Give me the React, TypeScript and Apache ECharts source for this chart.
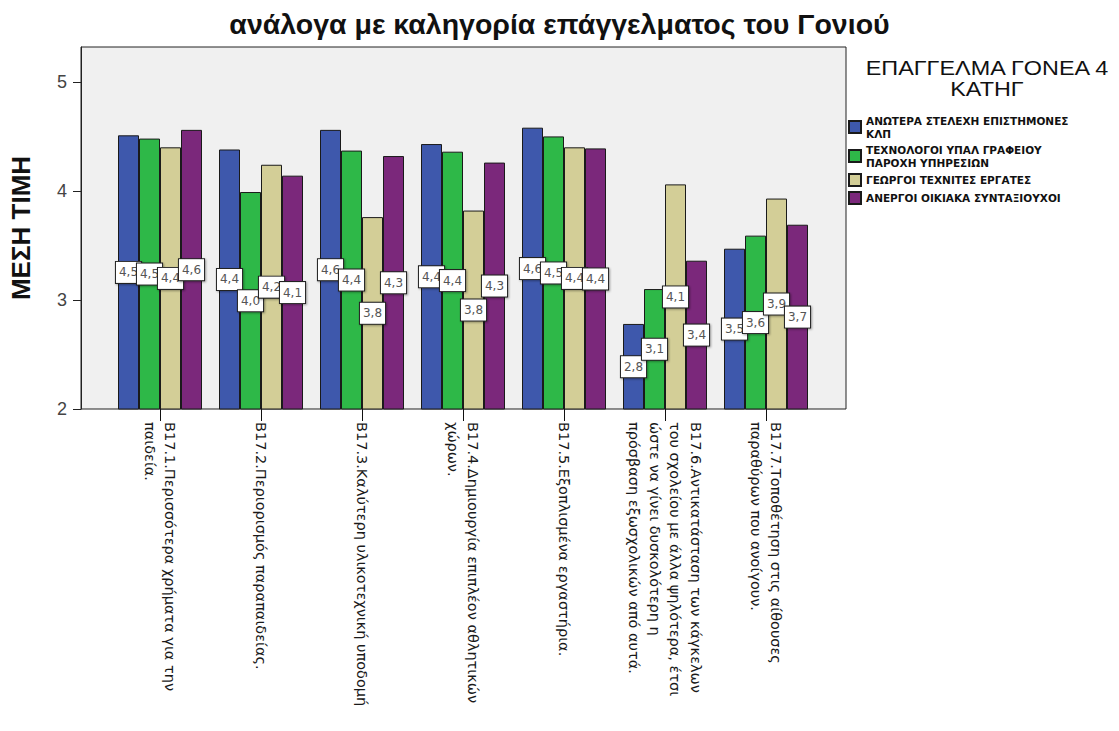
import React, { useEffect, useRef } from "react";
import * as echarts from "echarts";

const categories = [
  "Β17.1.Περισσότερα χρήματα για την\nπαιδεία.",
  "Β17.2.Περιορισμός παραπαιδείας.",
  "Β17.3.Καλύτερη υλικοτεχνική υποδομή",
  "Β17.4.Δημιουργία επιπλέον αθλητικών\nχώρων.",
  "Β17.5.Εξοπλισμένα εργαστήρια.",
  "Β17.6.Αντικατάσταση των κάγκελων\nτου σχολείου με άλλα ψηλότερα, έτσι\nώστε να γίνει δυσκολότερη η\nπρόσβαση εξωσχολικών από αυτά.",
  "Β17.7.Τοποθέτηση στις αίθουσες\nπαραθύρων που ανοίγουν.",
];

const seriesNames = [
  "ΑΝΩΤΕΡΑ ΣΤΕΛΕΧΗ ΕΠΙΣΤΗΜΟΝΕΣ\nΚΛΠ",
  "ΤΕΧΝΟΛΟΓΟΙ ΥΠΑΛ ΓΡΑΦΕΙΟΥ\nΠΑΡΟΧΗ ΥΠΗΡΕΣΙΩΝ",
  "ΓΕΩΡΓΟΙ ΤΕΧΝΙΤΕΣ ΕΡΓΑΤΕΣ",
  "ΑΝΕΡΓΟΙ ΟΙΚΙΑΚΑ ΣΥΝΤΑΞΙΟΥΧΟΙ",
];

const anoteraValues = [4.51, 4.38, 4.56, 4.43, 4.58, 2.78, 3.47];
const technologoiValues = [4.48, 3.99, 4.37, 4.36, 4.5, 3.1, 3.59];
const georgoiValues = [4.4, 4.24, 3.76, 3.82, 4.4, 4.06, 3.93];
const anergoiValues = [4.56, 4.14, 4.32, 4.26, 4.39, 3.36, 3.69];

const yTicks = [2, 3, 4, 5];

const colors = ["#3E58AC", "#2EB848", "#D3CE97", "#7B287B"];

// top edge of each legend entry (two-line entries start above their swatch)
const legendTops = [114, 143, 173, 191];

export default function App() {
  const ref = useRef<HTMLDivElement>(null);
  useEffect(() => {
    document.body.style.margin = "0";
    const chart = echarts.init(ref.current!, null, { renderer: "svg" });
    const values = [anoteraValues, technologoiValues, georgoiValues, anergoiValues];
    const option: any = {
      animation: false,
      backgroundColor: "#ffffff",
      title: {
        text: "ανάλογα με καληγορία επάγγελματος του Γονιού",
        left: "center",
        top: 4,
        textStyle: {
          fontFamily: "Liberation Sans",
          fontSize: 28.5,
          fontWeight: "bold",
          color: "#111",
        },
      },
      graphic: [
        {
          type: "text",
          x: 987,
          y: 58,
          scaleX: 1.17,
          style: {
            text: "ΕΠΑΓΓΕΛΜΑ ΓΟΝΕΑ 4\nΚΑΤΗΓ",
            x: 0,
            y: 0,
            textAlign: "center",
            fontFamily: "Liberation Sans",
            fontSize: 20,
            lineHeight: 21,
            fill: "#111",
          },
        },
      ],
      legend: seriesNames.map((name, i) => ({
        orient: "vertical",
        left: 848,
        top: legendTops[i],
        padding: 0,
        itemWidth: 12,
        itemHeight: 12,
        icon: "rect",
        data: [name],
        textStyle: {
          fontFamily: "DejaVu Sans",
          fontSize: 10.5,
          fontWeight: "bold",
          lineHeight: 13,
          color: "#111",
        },
      })),
      grid: [
        {
          left: 80,
          top: 47,
          width: 766,
          height: 362,
          show: true,
          backgroundColor: "#f0f0f0",
          borderColor: "#222",
          borderWidth: 1,
        },
        { left: 109.5, top: 47, width: 707, height: 362 },
      ],
      xAxis: [
        { gridIndex: 0, type: "category", data: [""], show: false },
        {
          gridIndex: 1,
          type: "category",
          data: categories,
          axisLine: { show: false },
          axisTick: {
            show: true,
            alignWithLabel: true,
            length: 12,
            lineStyle: { color: "#111", width: 1 },
          },
          axisLabel: {
            rotate: -90,
            interval: 0,
            margin: 13,
            fontFamily: "DejaVu Sans",
            fontSize: 14.5,
            lineHeight: 20.5,
            color: "#1a1a1a",
          },
        },
      ],
      yAxis: [
        {
          gridIndex: 0,
          type: "value",
          min: 2,
          max: 5.32,
          interval: 1,
          splitLine: { show: false },
          axisLine: { show: true, lineStyle: { color: "#222", width: 1 } },
          axisTick: {
            show: true,
            length: 8,
            customValues: yTicks,
            lineStyle: { color: "#222" },
          },
          axisLabel: {
            customValues: yTicks,
            margin: 14,
            fontFamily: "Liberation Sans",
            fontSize: 18,
            color: "#444",
          },
          name: "ΜΕΣΗ ΤΙΜΗ",
          nameLocation: "middle",
          nameGap: 47,
          nameTextStyle: {
            fontFamily: "Liberation Sans",
            fontSize: 26,
            fontWeight: "bold",
            color: "#111",
          },
        },
        { gridIndex: 1, type: "value", min: 2, max: 5.32, show: false },
      ],
      series: seriesNames.map((name, i) => ({
        name,
        type: "bar",
        xAxisIndex: 1,
        yAxisIndex: 1,
        data: values[i],
        barWidth: 21,
        barGap: "0%",
        itemStyle: { color: colors[i], borderColor: "#1a1a1a", borderWidth: 1 },
        label: {
          show: true,
          position: "inside",
          formatter: (p: any) => p.value.toFixed(1).replace(".", ","),
          fontFamily: "DejaVu Sans",
          fontSize: 12,
          color: "#555",
          backgroundColor: "#ffffff",
          borderColor: "#222",
          borderWidth: 1,
          padding: [5, 3, 4, 3],
          shadowColor: "rgba(0,0,0,0.35)",
          shadowBlur: 2,
          shadowOffsetX: 1,
          shadowOffsetY: 1,
        },
        emphasis: { disabled: true },
      })),
    };
    chart.setOption(option);
    return () => chart.dispose();
  }, []);
  return <div ref={ref} style={{ width: 1119, height: 731 }} />;
}
